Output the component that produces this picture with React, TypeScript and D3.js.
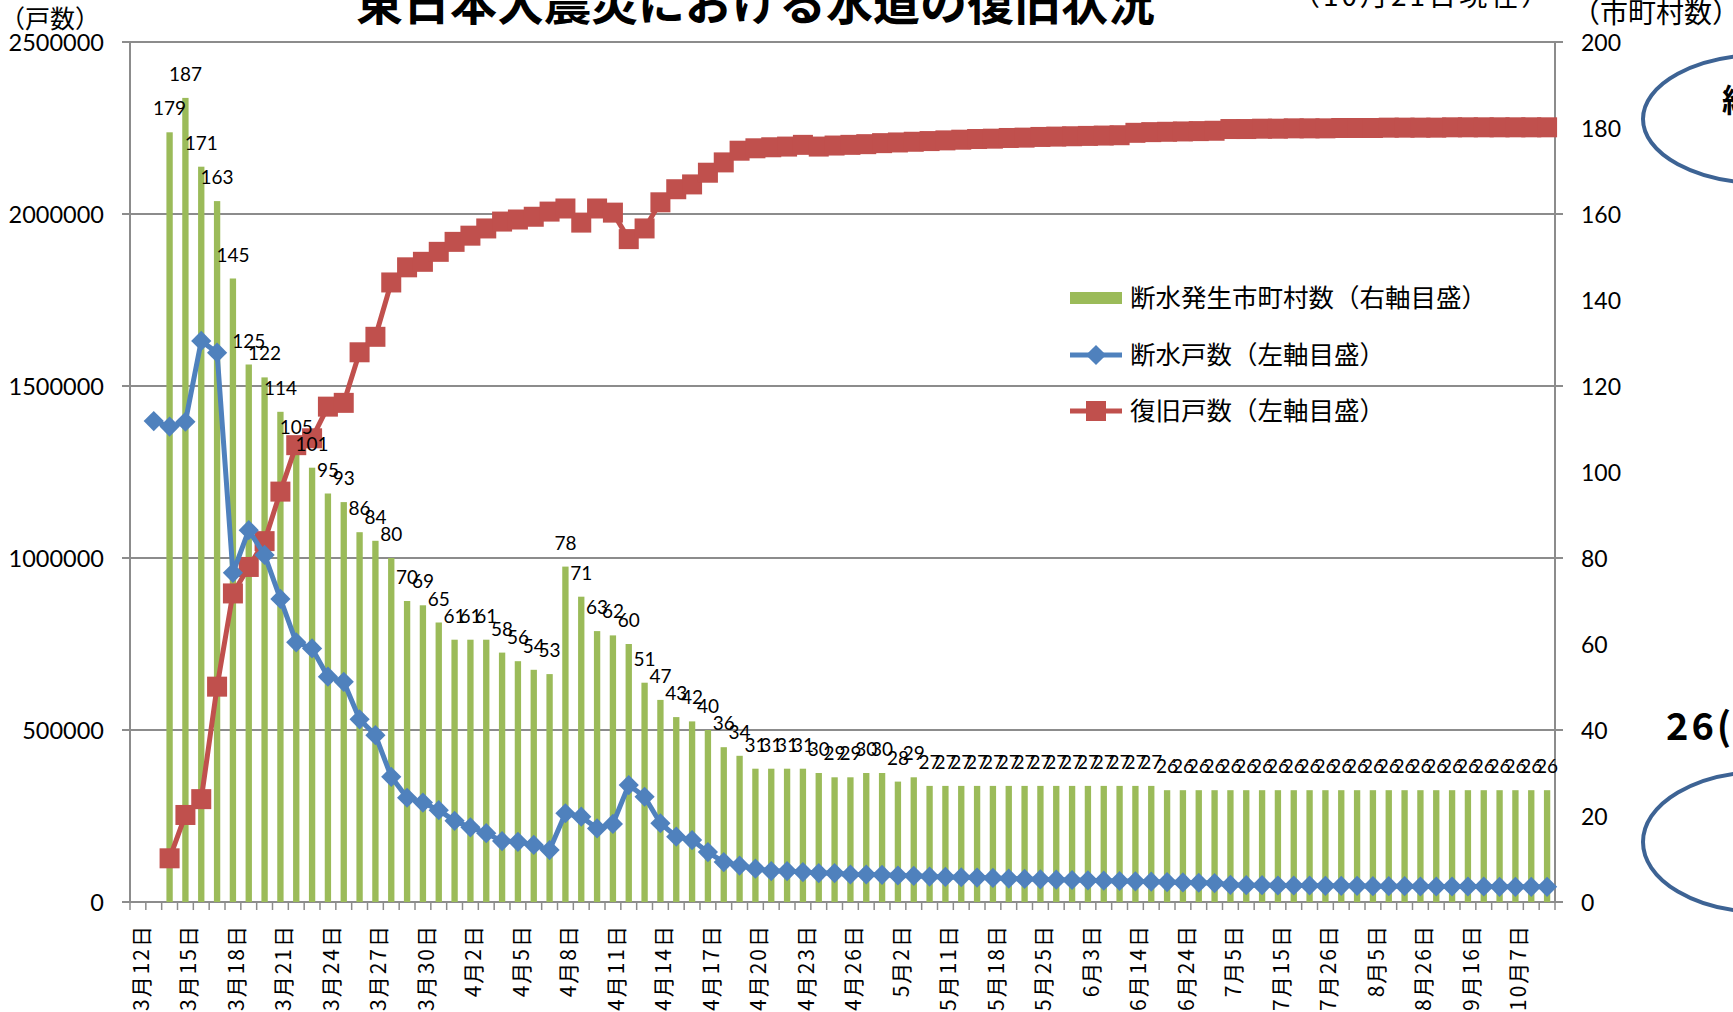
import React from 'react';
import * as d3 from 'd3';

const categories: string[] = [
  '3月12日','3月13日','3月14日','3月15日','3月16日','3月17日','3月18日','3月19日','3月20日','3月21日',
  '3月22日','3月23日','3月24日','3月25日','3月26日','3月27日','3月28日','3月29日','3月30日','3月31日',
  '4月1日','4月2日','4月3日','4月4日','4月5日','4月6日','4月7日','4月8日','4月9日','4月10日',
  '4月11日','4月12日','4月13日','4月14日','4月15日','4月16日','4月17日','4月18日','4月19日','4月20日',
  '4月21日','4月22日','4月23日','4月24日','4月25日','4月26日','4月28日','4月30日','5月2日','5月6日',
  '5月9日','5月11日','5月13日','5月16日','5月18日','5月20日','5月23日','5月25日','5月27日','5月31日',
  '6月3日','6月7日','6月10日','6月14日','6月17日','6月21日','6月24日','6月28日','7月1日','7月5日',
  '7月8日','7月12日','7月15日','7月19日','7月22日','7月26日','7月29日','8月2日','8月5日','8月12日',
  '8月19日','8月26日','9月2日','9月9日','9月16日','9月23日','9月30日','10月7日','10月14日','10月21日',
];

// 断水発生市町村数 (right axis)
const municipalities: (number | null)[] = [
  null, null, 179, 187, 171, 163, 145, 125, 122, 114,
  105, 101, 95, 93, 86, 84, 80, 70, 69, 65,
  61, 61, 61, 58, 56, 54, 53, 78, 71, 63,
  62, 60, 51, 47, 43, 42, 40, 36, 34, 31,
  31, 31, 31, 30, 29, 29, 30, 30, 28, 29,
  27, 27, 27, 27, 27, 27, 27, 27, 27, 27,
  27, 27, 27, 27, 27, 26, 26, 26, 26, 26,
  26, 26, 26, 26, 26, 26, 26, 26, 26, 26,
  26, 26, 26, 26, 26, 26, 26, 26, 26, 26,
];

// 断水戸数 (left axis)
const outageHouseholds: (number | null)[] = [
  null, 1398000, 1382000, 1396000, 1631000, 1597000, 957000, 1081000, 1009000, 881000,
  755000, 737000, 655000, 640000, 531000, 485000, 364000, 303000, 289000, 267000,
  236000, 217000, 200000, 177000, 175000, 166000, 151000, 258000, 248000, 214000,
  227000, 340000, 306000, 229000, 190000, 180000, 145000, 116000, 106000, 97000,
  90000, 90000, 87000, 84000, 84000, 80000, 80000, 79000, 77000, 76000,
  74000, 73000, 72000, 71000, 70000, 68000, 67000, 66000, 65000, 64000,
  63000, 62000, 61000, 60000, 59000, 58000, 57000, 56000, 55000, 50000,
  49000, 49000, 48000, 48000, 48000, 47000, 47000, 47000, 46000, 46000,
  46000, 45000, 45000, 45000, 45000, 45000, 44000, 44000, 44000, 44000,
];

// 復旧戸数 (left axis)
const restoredHouseholds: (number | null)[] = [
  null, null, 127000, 253000, 299000, 626000, 897000, 974000, 1049000, 1193000,
  1328000, 1348000, 1440000, 1451000, 1598000, 1643000, 1801000, 1845000, 1861000, 1890000,
  1919000, 1937000, 1958000, 1978000, 1984000, 1992000, 2007000, 2016000, 1975000, 2016000,
  2004000, 1927000, 1958000, 2034000, 2072000, 2086000, 2120000, 2150000, 2184000, 2191000,
  2194000, 2196000, 2201000, 2196000, 2199000, 2201000, 2203000, 2206000, 2208000, 2210000,
  2212000, 2214000, 2216000, 2218000, 2219000, 2221000, 2222000, 2224000, 2225000, 2226000,
  2227000, 2228000, 2229000, 2236000, 2238000, 2239000, 2240000, 2241000, 2242000, 2247000,
  2247000, 2248000, 2248000, 2249000, 2249000, 2249000, 2250000, 2250000, 2250000, 2251000,
  2251000, 2251000, 2251000, 2252000, 2252000, 2252000, 2252000, 2252000, 2252000, 2252000,
];

const leftTicks = [0, 500000, 1000000, 1500000, 2000000, 2500000];
const rightTicks = [0, 20, 40, 60, 80, 100, 120, 140, 160, 180, 200];

const titleText = '東日本大震災における水道の復旧状況';
const subtitleText = '（10月21日現在）';
const leftAxisTitle = '（戸数）';
const rightAxisTitle = '（市町村数）';
const legendLabels = ['断水発生市町村数（右軸目盛）', '断水戸数（左軸目盛）', '復旧戸数（左軸目盛）'];

const GREEN = '#9BBB59';
const BLUE = '#4F81BD';
const RED = '#C0504D';
const GRID = '#8C8C8C';
const JP = '"Noto Sans CJK JP", "Noto Sans", sans-serif';
const NUM = 'Lato, "Noto Sans", sans-serif';

export default function App() {
  const W = 1733;
  const H = 1012;
  const L = 130, R = 1555, T = 42, B = 902;

  const idx = d3.range(categories.length);
  const x = d3.scaleBand<number>().domain(idx).range([L, R]).paddingInner(0).paddingOuter(0);
  const bw = x.bandwidth();
  const cx = (i: number) => (x(i) as number) + bw / 2;
  const yL = d3.scaleLinear().domain([0, 2500000]).range([B, T]);
  const yR = d3.scaleLinear().domain([0, 200]).range([B, T]);

  const mkPath = (vals: (number | null)[]) =>
    d3
      .line<number>()
      .defined((i) => vals[i] != null)
      .x((i) => cx(i))
      .y((i) => yL(vals[i] as number))(idx) || '';

  const barW = bw * 0.4;
  const diamond = d3.symbol().type(d3.symbolDiamond2).size(260)() || '';

  return (
    <svg
      width={W}
      height={H}
      viewBox={`0 0 ${W} ${H}`}
      style={{ position: 'absolute', left: 0, top: 0, background: '#fff' }}
    >
      <rect x={0} y={0} width={W} height={H} fill="#fff" />

      {/* gridlines */}
      {leftTicks.map((t) => (
        <line key={'g' + t} x1={L - 8} x2={R + 8} y1={yL(t)} y2={yL(t)} stroke={GRID} strokeWidth={2} />
      ))}
      {/* axes */}
      <line x1={L} x2={L} y1={T} y2={B} stroke={GRID} strokeWidth={2} />
      <line x1={R} x2={R} y1={T} y2={B} stroke={GRID} strokeWidth={2} />
      {/* x ticks */}
      {d3.range(categories.length + 1).map((k) => (
        <line key={'xt' + k} x1={L + k * bw} x2={L + k * bw} y1={B} y2={B + 8} stroke={GRID} strokeWidth={1.5} />
      ))}

      {/* bars */}
      {municipalities.map((v, i) =>
        v == null ? null : (
          <rect key={'b' + i} x={cx(i) - barW / 2} y={yR(v)} width={barW} height={B - yR(v)} fill={GREEN} />
        )
      )}

      {/* lines */}
      <path d={mkPath(restoredHouseholds)} fill="none" stroke={RED} strokeWidth={5} strokeLinejoin="round" />
      {restoredHouseholds.map((v, i) =>
        v == null ? null : (
          <rect key={'r' + i} x={cx(i) - 10} y={yL(v) - 10} width={20} height={20} fill={RED} />
        )
      )}
      <path d={mkPath(outageHouseholds)} fill="none" stroke={BLUE} strokeWidth={5} strokeLinejoin="round" />
      {outageHouseholds.map((v, i) =>
        v == null ? null : (
          <path key={'d' + i} d={diamond} transform={`translate(${cx(i)},${yL(v)})`} fill={BLUE} />
        )
      )}

      {/* bar labels */}
      {municipalities.map((v, i) =>
        v == null ? null : (
          <text key={'bl' + i} x={cx(i)} y={yR(v) - 17} textAnchor="middle" fontFamily={NUM} fontSize={19} fill="#000">
            {v}
          </text>
        )
      )}

      {/* left axis labels */}
      {leftTicks.map((t) => (
        <text key={'lt' + t} x={104} y={yL(t)} textAnchor="end" dominantBaseline="central" fontFamily={NUM} fontSize={23.5} fill="#000">
          {t}
        </text>
      ))}
      {/* right axis labels */}
      {rightTicks.map((t) => (
        <text key={'rt' + t} x={1581} y={yR(t)} textAnchor="start" dominantBaseline="central" fontFamily={NUM} fontSize={23} fill="#000">
          {t}
        </text>
      ))}

      {/* x labels */}
      {categories.map((c, i) =>
        i % 3 === 0 ? (
          <text
            key={'xl' + i}
            transform={`translate(${cx(i) + 2},${B + 22}) rotate(-90)`}
            textAnchor="end"
            dominantBaseline="central"
            fontFamily={JP}
            fontSize={21}
            letterSpacing={2}
            fill="#000"
          >
            {c}
          </text>
        ) : null
      )}

      {/* titles */}
      <text x={356} y={20} fontFamily={JP} fontWeight="bold" fontSize={47} fill="#000">
        {titleText}
      </text>
      <text x={1292} y={6} fontFamily={JP} fontSize={28} letterSpacing={3} fill="#000">
        {subtitleText}
      </text>
      <text x={0} y={28} fontFamily={JP} fontSize={25} fill="#000">
        {leftAxisTitle}
      </text>
      <text x={1572} y={23} fontFamily={JP} fontSize={28} fill="#000">
        {rightAxisTitle}
      </text>

      {/* legend */}
      <rect x={1070} y={292} width={52} height={12} fill={GREEN} />
      <text x={1130} y={295} dominantBaseline="central" fontFamily={JP} fontSize={25.5} fill="#000">
        {legendLabels[0]}
      </text>
      <line x1={1070} x2={1122} y1={355} y2={355} stroke={BLUE} strokeWidth={5} />
      <path d={diamond} transform="translate(1096,355)" fill={BLUE} />
      <text x={1130} y={352} dominantBaseline="central" fontFamily={JP} fontSize={25.5} fill="#000">
        {legendLabels[1]}
      </text>
      <line x1={1070} x2={1122} y1={411} y2={411} stroke={RED} strokeWidth={5} />
      <rect x={1086} y={401} width={20} height={20} fill={RED} />
      <text x={1130} y={408} dominantBaseline="central" fontFamily={JP} fontSize={25.5} fill="#000">
        {legendLabels[2]}
      </text>

      {/* right-side annotations (cut off) */}
      <ellipse cx={1762} cy={119} rx={119} ry={64} fill="none" stroke="#3D6394" strokeWidth={4} />
      <text x={1722} y={112} fontFamily={JP} fontWeight="bold" fontSize={32} fill="#000">
        総
      </text>
      <text x={1666} y={740} fontFamily={JP} fontWeight="bold" fontSize={38} letterSpacing={3} fill="#000">
        26(
      </text>
      <ellipse cx={1762} cy={842} rx={119} ry={70} fill="none" stroke="#3D6394" strokeWidth={4} />
    </svg>
  );
}
